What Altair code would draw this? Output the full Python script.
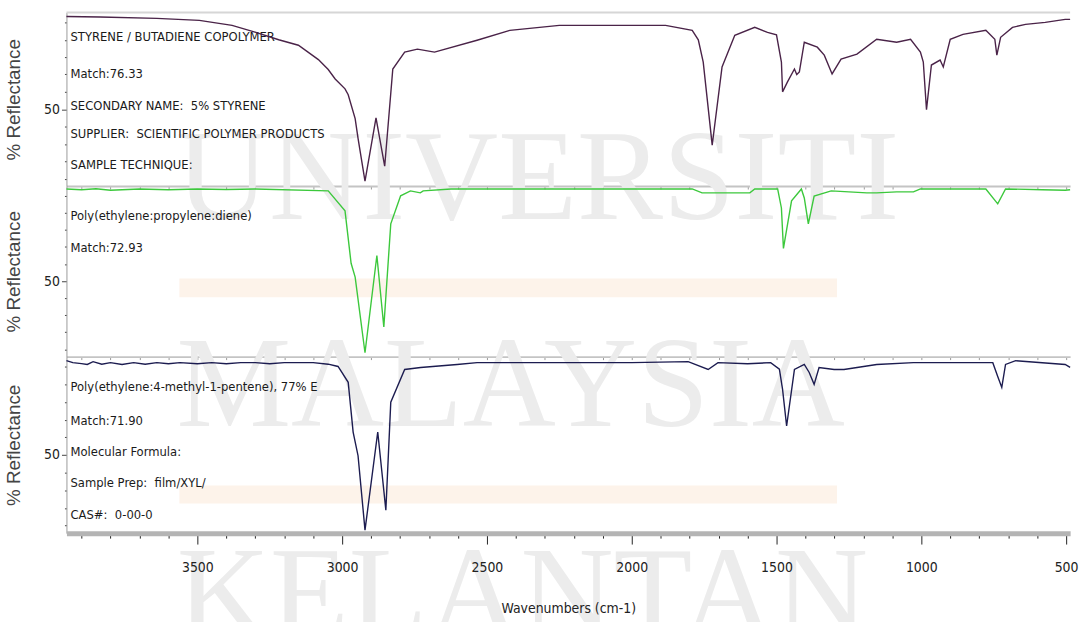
import altair as alt
import pandas as pd

# ---------------- data ----------------
# wavenumber (cm-1) and % reflectance for each library spectrum
sb_wn = [3952, 3836, 3640, 3493, 3380, 3298, 3219, 3151, 3082, 3048, 3024, 2990, 2979, 2955, 2945, 2921,
         2883, 2853, 2825, 2784, 2740, 2681, 2534, 2421, 2250, 1883, 1791, 1770, 1753, 1722, 1688, 1644,
         1575, 1531, 1500, 1483, 1479, 1462, 1438, 1430, 1421, 1404, 1359, 1335, 1308, 1277, 1222, 1154,
         1085, 1037, 1003, 993, 982, 965, 935, 924, 900, 856, 777, 746, 739, 726, 685, 640, 572, 503, 486]
sb_r = [87.4, 87.2, 86.6, 85.8, 83.8, 81.0, 78.0, 75.8, 70.0, 66.0, 62.2, 58.2, 55.8, 46.2, 38.2, 21.0,
        46.5, 27.0, 66.2, 73.0, 74.2, 73.0, 77.8, 81.8, 83.8, 83.8, 81.8, 78.0, 69.0, 35.5, 67.0, 79.8,
        83.0, 81.0, 80.0, 69.0, 57.0, 61.0, 66.2, 64.0, 65.0, 77.0, 75.0, 71.8, 64.2, 70.2, 72.2, 78.2,
        77.0, 78.2, 73.0, 69.0, 49.8, 67.8, 69.8, 67.0, 78.2, 80.2, 81.8, 78.2, 71.8, 79.0, 83.0, 84.2,
        85.0, 86.2, 86.2]

epdm_wn = [3952, 3900, 3850, 3800, 3700, 3600, 3500, 3400, 3300, 3048, 2990, 2969, 2955, 2921, 2880, 2856,
           2832, 2798, 2764, 2730, 2720, 2624, 1791, 1757, 1688, 1592, 1575, 1496, 1483, 1476, 1448, 1414,
           1404, 1390, 1370, 1311, 1188, 1154, 1085, 1027, 1003, 777, 736, 709, 582, 503, 486]
epdm_r = [87.8, 87.5, 87.9, 87.3, 87.8, 87.5, 87.8, 87.6, 87.8, 87.0, 78.8, 57.3, 51.6, 20.6, 60.5, 31.2,
          73.5, 85.0, 87.0, 86.2, 87.0, 87.8, 87.8, 86.2, 86.2, 86.2, 87.8, 87.8, 80.0, 63.4, 82.9, 87.8,
          84.1, 73.5, 84.9, 87.0, 86.2, 86.2, 86.6, 86.6, 87.8, 87.8, 81.7, 87.8, 87.5, 87.3, 87.5]

pemp_wn = [3952, 3930, 3900, 3880, 3860, 3830, 3800, 3760, 3720, 3680, 3640, 3600, 3560, 3500, 3450, 3400,
           3350, 3300, 3250, 3200, 3100, 3048, 3014, 2979, 2962, 2945, 2921, 2877, 2849, 2832, 2784, 2729,
           2603, 2534, 2300, 2000, 1805, 1736, 1702, 1600, 1520, 1490, 1479, 1465, 1438, 1404, 1387, 1370,
           1353, 1301, 1267, 1154, 1027, 900, 753, 736, 722, 709, 674, 503, 486]
pemp_r = [87.4, 86.6, 86.2, 85.9, 87.0, 86.0, 86.6, 85.9, 86.6, 86.0, 86.6, 86.2, 86.6, 86.2, 86.6, 86.2,
          86.6, 86.6, 86.2, 86.6, 86.6, 86.0, 85.1, 78.8, 59.1, 49.7, 20.2, 59.1, 28.1, 70.9, 83.9, 84.7,
          85.9, 86.6, 86.6, 86.6, 87.0, 83.9, 86.6, 86.2, 86.6, 84.0, 76.0, 61.5, 83.9, 85.9, 82.7, 78.0,
          84.7, 83.9, 83.9, 85.9, 86.6, 86.6, 86.6, 81.1, 76.8, 85.9, 87.4, 85.9, 84.7]

# library-hit annotations of each panel
sb_notes = ["STYRENE / BUTADIENE COPOLYMER", "Match:76.33", "SECONDARY NAME:\u00a0 5% STYRENE",
            "SUPPLIER:\u00a0 SCIENTIFIC POLYMER PRODUCTS", "SAMPLE TECHNIQUE:"]
sb_note_r = [79.0, 64.2, 51.4, 39.8, 27.4]
epdm_notes = ["Poly(ethylene:propylene:diene)", "Match:72.93"]
epdm_note_r = [76.8, 63.4]
pemp_notes = ["Poly(ethylene:4-methyl-1-pentene), 77% E", "Match:71.90", "Molecular Formula:",
              "Sample Prep:\u00a0 film/XYL/", "CAS#:\u00a0 0-00-0"]
pemp_note_r = [76.8, 63.5, 51.3, 38.7, 26.1]
note_wn = 3938

# background watermark (panel index, text, wavenumber centre, baseline value)
wm_panel = [0, 1, 2]
wm_text = ["UNIVERSITI", "MALAYSIA", "KELANTAN"]
wm_wn = [2325, 2418, 2377]
wm_r = [5.8, -9.5, -21.8]
# faint watermark bands (panel, wn from, wn to, value from, value to)
band_panel = [1, 2]
band_wn1 = [3562, 3562]
band_wn2 = [1291, 1291]
band_r1 = [51.1, 37.9]
band_r2 = [43.4, 30.8]

x_ticks = list(range(500, 3901, 100))
y_ticks = [22, 29, 36, 43, 50, 57, 64, 71, 78, 85]

# ---------------- chart ----------------
NARROW = "Liberation Sans Narrow, Arial Narrow, DejaVu Sans Condensed, sans-serif"
SERIF = "Liberation Serif, DejaVu Serif, serif"
X_DOM = [486, 3952]
Y_DOM = [19, 89]
W = 1012
heights = [175, 172, 178]
colors = ["#4a2348", "#3cc83c", "#1c1c50"]
spectra = [(sb_wn, sb_r), (epdm_wn, epdm_r), (pemp_wn, pemp_r)]
notes = [(sb_notes, sb_note_r), (epdm_notes, epdm_note_r), (pemp_notes, pemp_note_r)]

x_scale = alt.Scale(domain=X_DOM, reverse=True, nice=False, zero=False)
y_scale = alt.Scale(domain=Y_DOM, nice=False, zero=False)

y_axis = alt.Axis(
    title="% Reflectance", values=y_ticks,
    labelExpr="datum.value == 50 ? '50' : ''",
    tickSize={"condition": {"test": "datum.value == 50", "value": 5}, "value": 2},
    tickColor="#444", domainColor="#9a9a9a", grid=False,
    labelFont=NARROW, labelFontSize=14, labelColor="#222", labelPadding=2,
    titleFont="Liberation Sans", titleFontSize=19, titleFontWeight="normal",
    titleColor="#444", titlePadding=20,
)
sep_axis = alt.Axis(orient="bottom", values=x_ticks, labels=False, title=None, tickSize=3,
                    tickColor="#9a9a9a", domainColor="#c4c4c4", domainWidth=2, grid=False)
main_axis = alt.Axis(
    orient="bottom", values=x_ticks, format="d",
    labelExpr="datum.value % 500 === 0 ? datum.label : ''",
    tickSize={"condition": {"test": "datum.value % 500 === 0", "value": 11}, "value": 5},
    tickColor="#222", domainColor="#b4b4b4", domainWidth=5, grid=False,
    labelFont=NARROW, labelFontSize=14, labelColor="#222", labelPadding=17,
    title="Wavenumbers (cm-1)", titleFont=NARROW, titleFontSize=14, titleFontWeight="normal",
    titleColor="#222", titlePadding=27, zindex=1,
)

panels = []
for i in range(3):
    xa = main_axis if i == 2 else sep_axis
    X = alt.X("wn:Q", scale=x_scale, axis=xa)
    Y = alt.Y("r:Q", scale=y_scale, axis=y_axis)
    layers = []

    wm = pd.DataFrame({"wn": [w for p, w in zip(wm_panel, wm_wn) if p == i],
                       "r": [r for p, r in zip(wm_panel, wm_r) if p == i],
                       "t": [t for p, t in zip(wm_panel, wm_text) if p == i]})
    bd = pd.DataFrame({"wn": [a for p, a in zip(band_panel, band_wn1) if p == i],
                       "wn2": [a for p, a in zip(band_panel, band_wn2) if p == i],
                       "r": [a for p, a in zip(band_panel, band_r1) if p == i],
                       "r2": [a for p, a in zip(band_panel, band_r2) if p == i]})
    if len(bd):
        layers.append(alt.Chart(bd).mark_rect(color="#fdf3ea").encode(
            x=X, x2="wn2:Q", y=Y, y2="r2:Q"))
    if len(wm):
        layers.append(alt.Chart(wm).mark_text(font=SERIF, fontSize=130, color="#ececec",
                                              align="center", baseline="alphabetic").encode(
            x=X, y=Y, text="t:N"))
    if i == 0:
        top = pd.DataFrame({"wn": [X_DOM[1]], "wn2": [X_DOM[0]], "r": [Y_DOM[1]]})
        layers.append(alt.Chart(top).mark_rule(color="#d6d6d6", strokeWidth=2).encode(
            x=X, x2="wn2:Q", y=Y))

    nt = pd.DataFrame({"wn": [note_wn] * len(notes[i][0]), "r": notes[i][1], "t": notes[i][0]})
    layers.append(alt.Chart(nt).mark_text(font=NARROW, fontSize=13, color="#1a1a1a",
                                          align="left", baseline="middle").encode(
        x=X, y=Y, text="t:N"))

    sp = pd.DataFrame({"wn": spectra[i][0], "r": spectra[i][1]})
    layers.append(alt.Chart(sp).mark_line(color=colors[i], strokeWidth=1.4).encode(
        x=X, y=Y, order="wn:Q"))

    panels.append(alt.layer(*layers).properties(width=W, height=heights[i]))

chart = alt.vconcat(*panels, spacing=0, bounds="flush").properties(
    padding={"left": 4, "top": 9, "right": 6, "bottom": -43},
    background="white",
).configure_view(stroke=None)

chart.save("out.html", embed_options={"renderer": "svg", "actions": False})
